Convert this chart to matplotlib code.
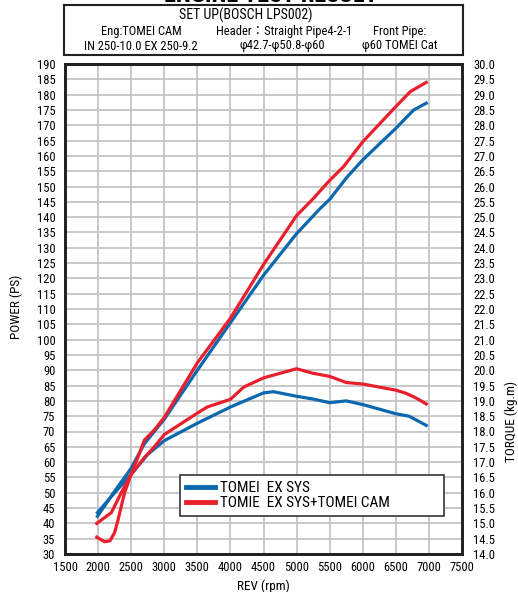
import numpy as np
import matplotlib
matplotlib.use("Agg")
from matplotlib import pyplot as plt
from matplotlib import font_manager

# pick a narrow face if one is around
have = set(f.name for f in font_manager.fontManager.ttflist)
narrow = 'Liberation Sans'
for name in ['Liberation Sans Narrow', 'DejaVu Sans Condensed', 'Roboto Condensed', 'Open Sans Condensed']:
    if name in have:
        narrow = name
        break
plt.rcParams['font.family'] = [narrow, 'DejaVu Sans', 'Noto Sans CJK JP']

# power curves (PS)
rpm_blue_pw = [1990, 2250, 2500, 2700, 3000, 3500, 4000, 4500, 5000, 5360, 5500, 5760, 6000, 6500, 6770, 6960]
blue_pw = [42.3, 50.5, 58.0, 66.0, 74.0, 90.0, 105.5, 121.0, 134.6, 142.9, 145.8, 153.0, 158.7, 169.0, 175.0, 177.2]

rpm_red_pw = [1980, 2100, 2180, 2250, 2300, 2400, 2500, 2600, 2700, 2850, 3000, 3250, 3500, 4000, 4500,
              5000, 5250, 5500, 5710, 6000, 6500, 6720, 6960]
red_pw = [35.5, 34.0, 34.3, 37.0, 41.0, 50.0, 56.0, 61.5, 67.2, 70.5, 74.6, 83.5, 92.4, 107.0, 124.5,
          140.5, 146.0, 152.0, 156.5, 164.6, 176.1, 181.0, 184.0]

# torque curves (kg.m)
rpm_blue_tq = [1990, 2250, 2500, 2750, 3000, 3500, 4000, 4500, 4650, 5000, 5250, 5500, 5750, 6000, 6250,
               6500, 6700, 6960]
blue_tq = [15.35, 16.0, 16.6, 17.25, 17.7, 18.27, 18.8, 19.26, 19.3, 19.15, 19.06, 18.94, 19.0, 18.88, 18.73,
           18.58, 18.5, 18.2]

rpm_red_tq = [1980, 2200, 2350, 2500, 2700, 2850, 3000, 3500, 3650, 4000, 4200, 4500, 4750, 5000, 5250,
              5500, 5750, 6000, 6250, 6500, 6650, 6800, 6960]
red_tq = [15.0, 15.35, 16.0, 16.6, 17.15, 17.5, 17.9, 18.6, 18.8, 19.05, 19.45, 19.75, 19.9, 20.05, 19.9,
          19.8, 19.6, 19.55, 19.45, 19.35, 19.25, 19.1, 18.9]

labels = ['TOMEI  EX SYS', 'TOMIE  EX SYS+TOMEI CAM']
blue = '#0b68ae'
red = '#ea1f2c'

fig = plt.figure(figsize=(5.18, 5.92), dpi=100)
ax = fig.add_axes([65/518, 1-554/592, 397/518, 490/592])
ax2 = ax.twinx()

ax.plot(rpm_blue_pw, blue_pw, color=blue, lw=2.3, label=labels[0])
ax.plot(rpm_red_pw, red_pw, color=red, lw=2.3, label=labels[1])
ax2.plot(rpm_blue_tq, blue_tq, color=blue, lw=2.3)
ax2.plot(rpm_red_tq, red_tq, color=red, lw=2.3)

ax.set_xlim(1500, 7500)
ax.set_ylim(30, 190)
ax2.set_ylim(14, 30)
ax.set_xticks(np.arange(1500, 7501, 500))
ax.set_yticks(np.arange(30, 191, 5))
ax2.set_yticks(np.arange(14, 30.01, 0.5))
ax2.set_yticklabels(['%.1f' % v for v in np.arange(14, 30.01, 0.5)])
ax.grid(True, color='#c4c4c4', lw=1.3)
ax.set_axisbelow(True)
ax.tick_params(length=0, labelsize=9, pad=7)
ax.tick_params(axis='x', pad=5)
ax2.tick_params(length=0, labelsize=9, pad=8)
for a in (ax, ax2):
    for s in a.spines.values():
        s.set_linewidth(2)
        s.set_color('#222222')

ax.set_xlabel('REV (rpm)', fontsize=9.5, labelpad=4)
ax.set_ylabel('POWER (PS)', fontsize=9.5)
ax.yaxis.set_label_coords(-0.105, 0.505)
ax2.set_ylabel('TORQUE (kg.m)', fontsize=9.5)
ax2.yaxis.set_label_coords(1.108, 0.27)

leg = ax.legend(loc='lower left', bbox_to_anchor=((180-65)/397, (554-516)/490, 264/397, 0.08),
                mode='expand', borderaxespad=0, fontsize=11, handlelength=1.9, handletextpad=0.3,
                borderpad=0.4, labelspacing=0.05, fancybox=False, framealpha=1, edgecolor='#333333')
leg.get_frame().set_linewidth(1.2)
for ln in leg.get_lines():
    ln.set_linewidth(3.5)

# header box
hb = fig.add_axes([64/518, 1-55/592, 399/518, 50/592])
hb.set_xticks([])
hb.set_yticks([])
for s in hb.spines.values():
    s.set_linewidth(1.5)
    s.set_color('#222222')
fs = 9
fig.text(246/518, 1-15/592, 'SET UP(BOSCH LPS002)', ha='center', va='center', fontsize=10)
fig.text(141/518, 1-32/592, 'Eng:TOMEI CAM', ha='center', va='center', fontsize=fs)
fig.text(141/518, 1-46/592, 'IN 250-10.0 EX 250-9.2', ha='center', va='center', fontsize=fs)
fig.text(284/518, 1-32/592, 'Header\uff1aStraight Pipe4-2-1', ha='center', va='center', fontsize=fs)
fig.text(282/518, 1-46/592, '\u03c642.7-\u03c650.8-\u03c660', ha='center', va='center', fontsize=fs)
fig.text(400/518, 1-32/592, 'Front Pipe:', ha='center', va='center', fontsize=fs)
fig.text(400/518, 1-46/592, '\u03c660 TOMEI Cat', ha='center', va='center', fontsize=fs)
fig.text(271/518, 1-2.5/592, 'ENGINE TEST RESULT', ha='center', va='baseline', fontsize=17.5, fontweight='bold')

fig.savefig('out.png', dpi=100)
